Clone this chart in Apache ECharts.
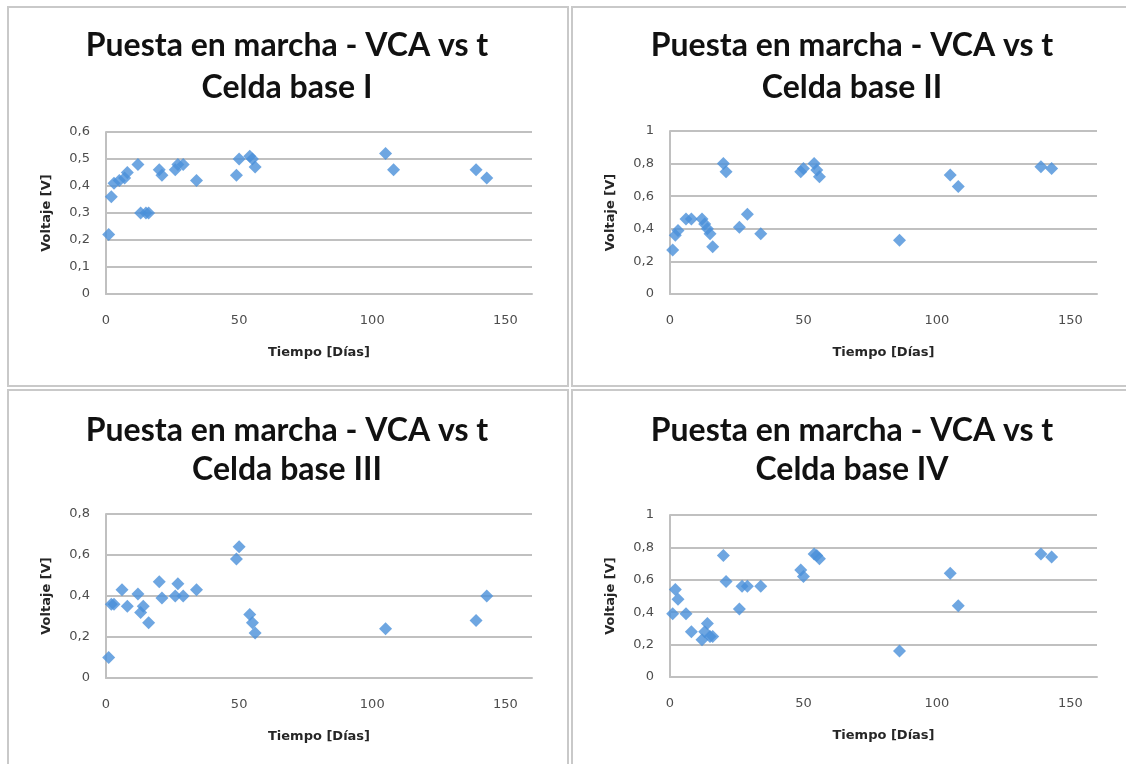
<!DOCTYPE html>
<html>
<head>
<meta charset="utf-8">
<script src="https://cdn.jsdelivr.net/npm/echarts@6/dist/echarts.min.js"></script>
<style>
html,body{margin:0;padding:0;background:#fff;}
#c{width:1126px;height:764px;}
</style>
</head>
<body>
<div id="c"></div>
<script>
// ---- Data ----
const titleLine = 'Puesta en marcha - VCA vs t';
const panelNames = ['Celda base I', 'Celda base II', 'Celda base III', 'Celda base IV'];
const xTickLabels = [0, 50, 100, 150];

const days1 = [1,2,3,5,7,8,12,13,15,16,20,21,26,27,29,34,49,50,54,55,56,105,108,139,143];
const volts1 = [0.22,0.36,0.41,0.42,0.43,0.45,0.48,0.30,0.30,0.30,0.46,0.44,0.46,0.48,0.48,0.42,0.44,0.50,0.51,0.50,0.47,0.52,0.46,0.46,0.43];

const days2 = [1,2,3,6,8,12,13,14,15,16,20,21,26,29,34,49,50,54,55,56,86,105,108,139,143];
const volts2 = [0.27,0.36,0.39,0.46,0.46,0.46,0.43,0.40,0.37,0.29,0.80,0.75,0.41,0.49,0.37,0.75,0.77,0.80,0.76,0.72,0.33,0.73,0.66,0.78,0.77];

const days3 = [1,2,3,6,8,12,13,14,16,20,21,26,27,29,34,49,50,54,55,56,105,139,143];
const volts3 = [0.10,0.36,0.36,0.43,0.35,0.41,0.32,0.35,0.27,0.47,0.39,0.40,0.46,0.40,0.43,0.58,0.64,0.31,0.27,0.22,0.24,0.28,0.40];

const days4 = [1,2,3,6,8,12,13,14,15,16,20,21,26,27,29,34,49,50,54,55,56,86,105,108,139,143];
const volts4 = [0.39,0.54,0.48,0.39,0.28,0.23,0.28,0.33,0.25,0.25,0.75,0.59,0.42,0.56,0.56,0.56,0.66,0.62,0.76,0.75,0.73,0.16,0.64,0.44,0.76,0.74];

const yMax = [0.6, 1, 0.8, 1];
const yStep = [0.1, 0.2, 0.2, 0.2];

// ---- Layout ----
const grids = [
  {left:106, top:132, width:426, height:162},
  {left:670, top:131, width:427, height:163},
  {left:106, top:514, width:426, height:164},
  {left:670, top:515, width:427, height:162}
];
const boxes = [
  {x:8, y:7, w:560, h:379},
  {x:572, y:7, w:560, h:379},
  {x:8, y:390, w:560, h:380},
  {x:572, y:390, w:560, h:380}
];
const titleCenters = [287, 852, 287, 852];
const titleY1 = [46, 46, 431, 431];
const titleY2 = [88, 88, 470, 470];
const allDays = [days1, days2, days3, days4];
const allVolts = [volts1, volts2, volts3, volts4];

const axisFont = 'DejaVu Sans';
const labelColor = '#4d4d4d';
const gridColor = '#c0c0c0';

const chart = echarts.init(document.getElementById('c'), null, {renderer:'canvas'});

const graphics = [];
boxes.forEach(b => graphics.push({
  type: 'rect', silent: true, z: -1,
  shape: {x: b.x, y: b.y, width: b.w, height: b.h},
  style: {fill: 'none', stroke: '#c9c9c9', lineWidth: 2}
}));
boxes.forEach((b, i) => {
  [[titleLine, titleY1[i]], [panelNames[i], titleY2[i]]].forEach(([t, y]) => graphics.push({
    type: 'text', silent: true,
    x: titleCenters[i], y: y,
    style: {text: t, textAlign: 'center', textVerticalAlign: 'middle',
      font: 'bold 32px Lato', fill: '#111'}
  }));
});

const option = {
  backgroundColor: '#ffffff',
  animation: false,
  graphic: graphics,
  grid: grids.map(g => Object.assign({containLabel: false}, g)),
  xAxis: grids.map((g, i) => ({
    type: 'value', gridIndex: i, min: 0, max: 160, interval: 50,
    name: 'Tiempo [Días]', nameLocation: 'middle', nameGap: 52,
    nameTextStyle: {fontFamily: axisFont, fontWeight: 'bold', fontSize: 13, color: '#262626'},
    axisLine: {show: true, lineStyle: {color: gridColor, width: 2}},
    axisTick: {show: false},
    splitLine: {show: false},
    axisLabel: {
      fontFamily: axisFont, fontSize: 13, color: labelColor, margin: 20,
      showMaxLabel: false,
      formatter: v => xTickLabels.indexOf(v) >= 0 ? String(v) : ''
    }
  })),
  yAxis: grids.map((g, i) => ({
    type: 'value', gridIndex: i, min: 0, max: yMax[i], interval: yStep[i],
    name: 'Voltaje [V]', nameLocation: 'middle', nameGap: 53, nameRotate: 90,
    nameTextStyle: {fontFamily: axisFont, fontWeight: 'bold', fontSize: 13, color: '#262626'},
    axisLine: {show: true, lineStyle: {color: gridColor, width: 2}},
    axisTick: {show: false},
    splitLine: {show: true, lineStyle: {color: gridColor, width: 2}},
    axisLabel: {
      fontFamily: axisFont, fontSize: 13, color: labelColor, margin: 16,
      formatter: v => String(Math.round(v * 10) / 10).replace('.', ',')
    }
  })),
  series: allDays.map((d, i) => ({
    type: 'scatter', xAxisIndex: i, yAxisIndex: i,
    symbol: 'diamond', symbolSize: 13,
    itemStyle: {color: '#4a90d9'},
    data: d.map((x, k) => [x, allVolts[i][k]])
  }))
};
chart.setOption(option);
</script>
</body>
</html>
